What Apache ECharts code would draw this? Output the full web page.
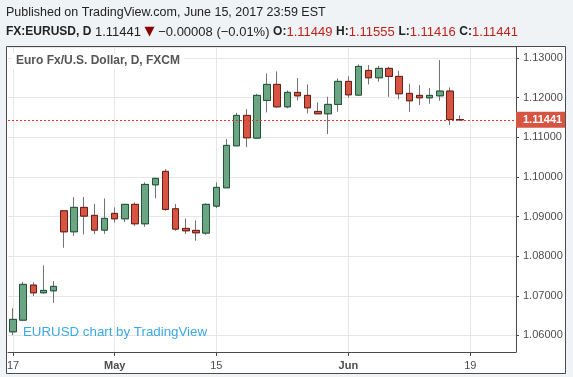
<!DOCTYPE html>
<html>
<head>
<meta charset="utf-8">
<script src="https://cdn.jsdelivr.net/npm/echarts@6/dist/echarts.min.js"></script>
<style>
html,body{margin:0;padding:0;background:#f0f3f6;}
#c{width:573px;height:377px;}
</style>
</head>
<body>
<div id="c"></div>
<script>
// Categories: trading days (last five are future, empty)
const dates = [
  'Apr 17','Apr 18','Apr 19','Apr 20','Apr 21',
  'Apr 24','Apr 25','Apr 26','Apr 27','Apr 28',
  'May 1','May 2','May 3','May 4','May 5',
  'May 8','May 9','May 10','May 11','May 12',
  'May 15','May 16','May 17','May 18','May 19',
  'May 22','May 23','May 24','May 25','May 26',
  'May 29','May 30','May 31','Jun 1','Jun 2',
  'Jun 5','Jun 6','Jun 7','Jun 8','Jun 9',
  'Jun 12','Jun 13','Jun 14','Jun 15','Jun 16',
  'Jun 19','Jun 20','Jun 21','Jun 22','Jun 23'
];
const opens  = [1.06090,1.06385,1.07269,1.07075,1.07125,1.09145,1.08615,1.09231,1.09029,1.08658,
                1.09079,1.08943,1.09307,1.08817,1.09801,1.10140,1.09195,1.08700,1.08650,1.08582,
                1.09264,1.09726,1.10786,1.11553,1.10980,1.11932,1.12336,1.11770,1.12134,1.12058,
                1.11654,1.11594,1.11831,1.12412,1.12066,1.12689,1.12503,1.12740,1.12538,1.12109,
                1.12058,1.11998,1.12048,1.12167,1.11449];
const closes = [1.06403,1.07287,1.07075,1.07135,1.07236,1.08615,1.09231,1.09011,1.08658,1.08953,
                1.08943,1.09307,1.08817,1.09811,1.09963,1.09180,1.08683,1.08640,1.08590,1.09307,
                1.09736,1.10796,1.11553,1.10988,1.12058,1.12336,1.11770,1.12134,1.12048,1.11745,
                1.11594,1.11831,1.12412,1.12073,1.12790,1.12503,1.12740,1.12538,1.12099,1.11922,
                1.11998,1.12058,1.12167,1.11449,1.11441];
const lows   = [1.06007,1.06360,1.06991,1.07059,1.06822,1.08211,1.08514,1.08549,1.08557,1.08564,
                1.08852,1.08860,1.08766,1.08741,1.09458,1.09145,1.08640,1.08557,1.08388,1.08539,
                1.09213,1.09720,1.10780,1.10753,1.10963,1.11629,1.11745,1.11730,1.11932,1.11604,
                1.11590,1.11081,1.11644,1.11998,1.12048,1.12336,1.12402,1.12023,1.11957,1.11644,
                1.11813,1.11846,1.11922,1.11309,1.11416];
const highs  = [1.06681,1.07352,1.07337,1.07766,1.07370,1.09160,1.09491,1.09491,1.09322,1.09458,
                1.09231,1.09320,1.09357,1.09862,1.09978,1.10198,1.09314,1.08953,1.08903,1.09332,
                1.09862,1.10955,1.11619,1.11712,1.12099,1.12614,1.12664,1.12185,1.12495,1.12336,
                1.11882,1.12023,1.12487,1.12538,1.12841,1.12823,1.12806,1.12780,1.12679,1.12344,
                1.12318,1.12243,1.12950,1.12260,1.11555];
// x-axis tick labels
const xTickLabels = {0:'17', 10:'May', 20:'15', 33:'Jun', 45:'19'};
const boldLabels = ['May','Jun'];
const lastPrice = 1.11441;

const UP = '#6ba583', UPB = '#225437', DN = '#d75442', DNB = '#6b1f15', WICK = '#737375';

const fullData = opens.map((o,i)=>[o, closes[i], lows[i], highs[i]]);
const bodyData = opens.map((o,i)=>[o, closes[i], Math.min(o,closes[i]), Math.max(o,closes[i])]);

const chart = echarts.init(document.getElementById('c'), null, {renderer:'canvas'});
const showTick = (i) => Object.prototype.hasOwnProperty.call(xTickLabels, i);

chart.setOption({
  backgroundColor: '#f0f3f6',
  animation: false,
  textStyle: {fontFamily: 'Liberation Sans, Arial, sans-serif'},
  graphic: [
    {type:'rect', z:-100, silent:true, shape:{x:6.5, y:46.5, width:559, height:327},
     style:{fill:'#ffffff', stroke:'#4a4a4a', lineWidth:1}},
    {type:'text', x:6, y:13, silent:true,
     style:{text:'Published on TradingView.com, June 15, 2017 23:59 EST', fill:'#222',
            font:'12.5px "Liberation Sans", Arial, sans-serif', verticalAlign:'middle'}},
    {type:'text', x:6, y:32, silent:true,
     style:{text:'{b|FX:EURUSD, D} 1.11441 {dn|▼} −0.00008 (−0.01%) {b|O:}{r|1.11449} {b|H:}{r|1.11555} {b|L:}{r|1.11416} {b|C:}{r|1.11441}',
            fill:'#222', font:'13px "Liberation Sans", Arial, sans-serif', verticalAlign:'middle',
            rich:{
              b:{fontWeight:'bold', fill:'#222', font:'bold 13px "Liberation Sans", Arial, sans-serif'},
              dn:{fill:'#8b0000', font:'13px "DejaVu Sans", sans-serif'},
              r:{fill:'#c0221b', font:'13px "Liberation Sans", Arial, sans-serif'}
            }}},
    {type:'text', x:12, y:61, z:100, silent:true,
     style:{text:'Euro Fx/U.S. Dollar, D, FXCM', fill:'#555',
            font:'bold 12px "Liberation Sans", Arial, sans-serif', verticalAlign:'middle',
            backgroundColor:'#ffffff', padding:[2,4,2,4]}},
    {type:'text', x:23, y:332, z:100, silent:true,
     style:{text:'EURUSD chart by TradingView', fill:'#3aa9e0',
            font:'13.3px "Liberation Sans", Arial, sans-serif', verticalAlign:'middle'}}
  ],
  grid: {left:8, top:47, width:508, height:305, containLabel:false},
  xAxis: {
    type:'category', data: dates, boundaryGap:true,
    axisLine:{show:true, lineStyle:{color:'#4a4a4a', width:1}},
    axisTick:{show:true, alignWithLabel:true, interval:(i)=>showTick(i), length:4, lineStyle:{color:'#4a4a4a'}},
    axisLabel:{show:true, interval:(i)=>showTick(i), margin:8, color:'#4d4d4d', fontSize:11,
      formatter:(v,i)=>{ const t = xTickLabels[i]; if(t===undefined) return ''; return boldLabels.includes(t) ? '{b|'+t+'}' : t; },
      rich:{b:{fontWeight:'bold', fontSize:11, color:'#4d4d4d'}}},
    splitLine:{show:true, alignWithLabel:true, interval:(i)=>showTick(i), lineStyle:{color:'#e6e6e6', width:1}}
  },
  yAxis: {
    type:'value', position:'right', scale:true,
    min:1.0558, max:1.1328, minInterval:0.01, maxInterval:0.01,
    axisLine:{show:true, lineStyle:{color:'#4a4a4a', width:1}},
    axisTick:{show:true, length:3, lineStyle:{color:'#4a4a4a'}},
    axisLabel:{color:'#4d4d4d', fontSize:11, margin:7, showMinLabel:false, showMaxLabel:false,
      formatter:(v)=>v.toFixed(5)},
    splitLine:{show:true, lineStyle:{color:'#e6e6e6', width:1}}
  },
  series: [
    {
      type:'candlestick', data: fullData, barWidth:7,
      itemStyle:{color:UP, color0:DN, borderColor:WICK, borderColor0:WICK, borderWidth:1}
    },
    {
      type:'candlestick', data: bodyData, barWidth:7,
      itemStyle:{color:UP, color0:DN, borderColor:UPB, borderColor0:DNB, borderWidth:1},
      markLine:{
        silent:true, symbol:['none','none'], precision:5,
        lineStyle:{color:'#e0392b', type:[2,2], width:1, opacity:1},
        emphasis:{disabled:true},
        label:{show:true, position:'end', distance:0, formatter:()=>lastPrice.toFixed(5),
               backgroundColor:'#d75442', color:'#fff', fontWeight:'bold', fontSize:11,
               padding:[3,3,2,7]},
        data:[{yAxis:lastPrice}]
      }
    }
  ]
});
</script>
</body>
</html>
